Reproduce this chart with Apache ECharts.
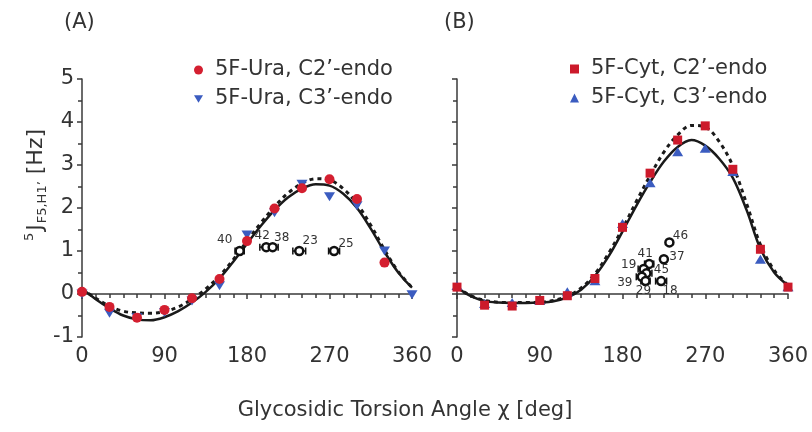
<!DOCTYPE html>
<html>
<head>
<meta charset="utf-8">
<script src="https://cdn.jsdelivr.net/npm/echarts@6/dist/echarts.min.js"></script>
<style>
  html, body { margin: 0; padding: 0; background: #fff; }
  #chart { width: 812px; height: 432px; }
</style>
</head>
<body>
<div id="chart"></div>
<script>
const FONT = "'DejaVu Sans', 'Liberation Sans', Arial, sans-serif";

// curve sample angles (deg) and marker angles
const curveDeg = [0, 15, 30, 45, 60, 75, 90, 105, 120, 135, 150, 165, 180, 195, 210, 225, 240, 255, 270, 285, 300, 315, 330, 345, 360];
const markerDeg = [0, 30, 60, 90, 120, 150, 180, 210, 240, 270, 300, 330, 360];

// (A) 5F-Ura
const uraSolid = [0.12, -0.12, -0.33, -0.5, -0.59, -0.61, -0.54, -0.4, -0.2, 0.05, 0.36, 0.75, 1.17, 1.58, 1.95, 2.25, 2.45, 2.55, 2.52, 2.33, 2.0, 1.52, 0.98, 0.5, 0.15];
const uraDashed = [0.12, -0.1, -0.28, -0.4, -0.44, -0.45, -0.41, -0.3, -0.12, 0.12, 0.42, 0.8, 1.23, 1.65, 2.03, 2.35, 2.57, 2.68, 2.65, 2.45, 2.1, 1.6, 1.03, 0.52, 0.15];
const uraC2 = [0.05, -0.3, -0.55, -0.37, -0.1, 0.35, 1.23, 1.99, 2.46, 2.67, 2.21, 0.73, null];
const uraC3 = [0.0, -0.45, -0.55, -0.43, -0.16, 0.19, 1.37, 1.89, 2.55, 2.26, 2.05, 1.0, -0.02];
const uraExpNames = ['40', '42', '38', '23', '25'];
const uraExpX = [172, 201, 208, 237, 275];
const uraExpY = [1.0, 1.09, 1.09, 1.0, 1.0];
const uraExpErr = [5, 7, 6, 7, 6];
const uraLabelOffsets = [[-15, -11], [-4, -11], [9, -9], [11, -10], [12, -7]];

// (B) 5F-Cyt
const cytSolid = [0.15, -0.05, -0.16, -0.2, -0.21, -0.21, -0.2, -0.17, -0.08, 0.1, 0.42, 0.88, 1.45, 2.05, 2.6, 3.08, 3.42, 3.58, 3.45, 3.15, 2.7, 1.95, 1.05, 0.5, 0.2];
const cytDashed = [0.15, -0.04, -0.15, -0.19, -0.2, -0.2, -0.19, -0.15, -0.05, 0.14, 0.47, 0.95, 1.52, 2.15, 2.75, 3.3, 3.7, 3.92, 3.88, 3.55, 2.98, 2.1, 1.15, 0.55, 0.2];
const cytC2 = [0.16, -0.26, -0.28, -0.15, -0.04, 0.36, 1.55, 2.81, 3.58, 3.91, 2.9, 1.04, 0.16];
const cytC3 = [0.2, -0.22, -0.2, -0.15, 0.05, 0.31, 1.64, 2.59, 3.31, 3.39, 2.85, 0.81, 0.17];
const cytExpNames = ['46', '37', '41', '19', '45', '39', '29', '18'];
const cytExpX = [231, 225, 209, 203, 206, 201, 205, 222];
const cytExpY = [1.2, 0.81, 0.7, 0.58, 0.48, 0.4, 0.3, 0.3];
const cytExpErr = [0, 0, 5, 6, 6, 6, 5, 6];
const cytLabelOffsets = [[11, -7], [13, -2], [-4, -10], [-15, -4], [15, -3], [-17, 6], [-2, 10], [9, 10]];

const xTicks = [0, 90, 180, 270, 360];
const yTicks = [-1, 0, 1, 2, 3, 4, 5];

const RED = '#d41f30';
const BLUE = '#3b5cc0';
const AXIS = '#3a3a3a';
const TRI_DOWN = 'path://M0,0L20,0L10,17Z';

function pairs(xs, ys) {
  const out = [];
  xs.forEach((x, i) => { if (ys[i] != null) out.push([x, ys[i]]); });
  return out;
}

function xAxis(gridIndex) {
  return {
    type: 'value', gridIndex, min: xTicks[0], max: xTicks[xTicks.length - 1], interval: 90,
    axisLine: { lineStyle: { color: AXIS, width: 1.5 } },
    axisTick: { length: 5, lineStyle: { color: AXIS, width: 1.5 } },
    minorTick: { show: true, splitNumber: 6, length: 4, lineStyle: { color: AXIS, width: 1.5 } },
    splitLine: { show: false },
    axisLabel: { fontSize: 21, color: '#333', fontFamily: FONT, margin: 9 }
  };
}

function yAxis(gridIndex, showLabels) {
  return {
    type: 'value', gridIndex, min: yTicks[0], max: yTicks[yTicks.length - 1], interval: 1,
    axisLine: { show: true, lineStyle: { color: AXIS, width: 1.5 } },
    axisTick: { show: true, length: 5, lineStyle: { color: AXIS, width: 1.5 } },
    minorTick: { show: true, splitNumber: 2, length: 4, lineStyle: { color: AXIS, width: 1.5 } },
    splitLine: { show: false },
    axisLabel: { show: showLabels, fontSize: 21, color: '#333', fontFamily: FONT, margin: 8 }
  };
}

function errRender(params, api) {
  const x = api.value(0), y = api.value(1), e = api.value(2);
  if (!e) return null;
  const l = api.coord([x - e, y]);
  const r = api.coord([x + e, y]);
  const h = 3.5;
  const st = { stroke: '#111', lineWidth: 1.5 };
  return {
    type: 'group',
    children: [
      { type: 'line', shape: { x1: l[0], y1: l[1], x2: r[0], y2: r[1] }, style: st },
      { type: 'line', shape: { x1: l[0], y1: l[1] - h, x2: l[0], y2: l[1] + h }, style: st },
      { type: 'line', shape: { x1: r[0], y1: r[1] - h, x2: r[0], y2: r[1] + h }, style: st }
    ]
  };
}

function curve(name, idx, xs, ys, dashed) {
  return {
    name, type: 'line', xAxisIndex: idx, yAxisIndex: idx,
    data: pairs(xs, ys), smooth: 0.35, symbol: 'none', silent: true, z: 2,
    lineStyle: { color: '#1a1a1a', width: dashed ? 3 : 2.5, type: dashed ? [4, 4] : 'solid' }
  };
}

function markers(name, idx, ys, symbol, size, color, z) {
  return {
    name, type: 'scatter', xAxisIndex: idx, yAxisIndex: idx,
    data: pairs(markerDeg, ys), symbol, symbolSize: size, z,
    itemStyle: { color, opacity: 1 }
  };
}

function errBars(idx, xs, ys, errs) {
  return {
    type: 'custom', xAxisIndex: idx, yAxisIndex: idx, z: 5, silent: true,
    renderItem: errRender, encode: { x: 0, y: 1 },
    data: xs.map((x, i) => [x, ys[i], errs[i]])
  };
}

function expPoints(idx, names, xs, ys, offsets) {
  return {
    type: 'scatter', xAxisIndex: idx, yAxisIndex: idx, z: 6,
    symbol: 'circle', symbolSize: 8,
    itemStyle: { color: '#fff', borderColor: '#111', borderWidth: 2.5, opacity: 1 },
    label: {
      show: true, position: 'inside', formatter: '{b}', color: '#333',
      fontSize: 12, fontFamily: FONT
    },
    data: names.map((n, i) => ({ name: n, value: [xs[i], ys[i]], label: { offset: offsets[i] } }))
  };
}

const chart = echarts.init(document.getElementById('chart'));
chart.setOption({
  animation: false,
  backgroundColor: '#fff',
  grid: [
    { left: 82, top: 79, width: 330, height: 258 },
    { left: 457, top: 79, width: 331, height: 258 }
  ],
  xAxis: [xAxis(0), xAxis(1)],
  yAxis: [yAxis(0, true), yAxis(1, false)],
  legend: [
    {
      left: 194, top: 59, orient: 'vertical', itemGap: 7, itemWidth: 9, itemHeight: 9,
      selectedMode: false, padding: 0,
      textStyle: { fontSize: 21, color: '#333', fontFamily: FONT, lineHeight: 22, padding: [0, 0, 0, 7] },
      data: [
        { name: "5F-Ura, C2’-endo", icon: 'circle' },
        { name: "5F-Ura, C3’-endo", icon: TRI_DOWN }
      ]
    },
    {
      left: 570, top: 58, orient: 'vertical', itemGap: 7, itemWidth: 9, itemHeight: 9,
      selectedMode: false, padding: 0,
      textStyle: { fontSize: 21, color: '#333', fontFamily: FONT, lineHeight: 22, padding: [0, 0, 0, 7] },
      data: [
        { name: "5F-Cyt, C2’-endo", icon: 'rect' },
        { name: "5F-Cyt, C3’-endo", icon: 'triangle' }
      ]
    }
  ],
  graphic: [
    { type: 'text', left: 64, top: 12, style: { text: '(A)', fontSize: 21, fill: '#333', fontFamily: FONT } },
    { type: 'text', left: 444, top: 12, style: { text: '(B)', fontSize: 21, fill: '#333', fontFamily: FONT } },
    {
      type: 'text', x: 405, y: 411,
      style: { text: 'Glycosidic Torsion Angle χ [deg]', fontSize: 21, fill: '#333', fontFamily: FONT, align: 'center', verticalAlign: 'middle' }
    },
    {
      type: 'text', x: 36, y: 185, rotation: Math.PI / 2,
      style: {
        text: "{sup|5}{big|J}{sub|F5,H1’}{big| [Hz]}",
        align: 'center', verticalAlign: 'middle', fill: '#333', fontFamily: FONT,
        rich: {
          big: { fontSize: 22, fontFamily: FONT, fill: '#333', lineHeight: 26 },
          sup: { fontSize: 13, fontFamily: FONT, fill: '#333', verticalAlign: 'top', padding: [0, 2, 8, 0] },
          sub: { fontSize: 13, fontFamily: FONT, fill: '#333', verticalAlign: 'bottom', padding: [8, 0, 0, 1] }
        }
      }
    }
  ],
  series: [
    curve('uraSolid', 0, curveDeg, uraSolid, false),
    curve('uraDashed', 0, curveDeg, uraDashed, true),
    markers("5F-Ura, C3’-endo", 0, uraC3, TRI_DOWN, [11, 9], BLUE, 3),
    markers("5F-Ura, C2’-endo", 0, uraC2, 'circle', 10, RED, 4),
    errBars(0, uraExpX, uraExpY, uraExpErr),
    expPoints(0, uraExpNames, uraExpX, uraExpY, uraLabelOffsets),

    curve('cytSolid', 1, curveDeg, cytSolid, false),
    curve('cytDashed', 1, curveDeg, cytDashed, true),
    markers("5F-Cyt, C3’-endo", 1, cytC3, 'triangle', [11, 9], BLUE, 3),
    markers("5F-Cyt, C2’-endo", 1, cytC2, 'rect', 9, '#cc1a2b', 4),
    errBars(1, cytExpX, cytExpY, cytExpErr),
    expPoints(1, cytExpNames, cytExpX, cytExpY, cytLabelOffsets)
  ]
});
</script>
</body>
</html>
